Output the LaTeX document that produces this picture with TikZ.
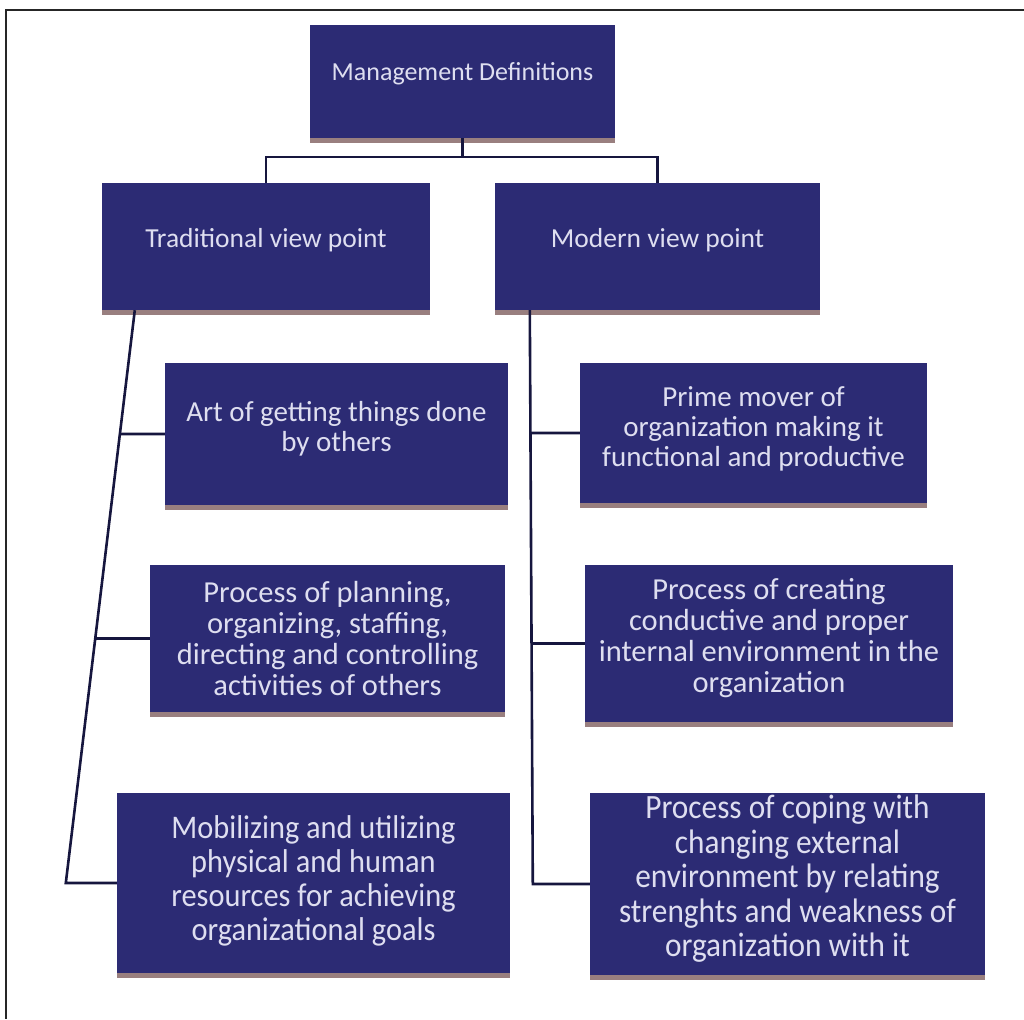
\documentclass[tikz,border=0pt]{standalone}
\usepackage{fontspec}
\setmainfont{Carlito}
\newfontfamily\narrowfont[FakeStretch=0.92]{Carlito}
\usetikzlibrary{calc,shadows}
\definecolor{boxfill}{RGB}{44,43,116}
\definecolor{boxtext}{RGB}{222,222,240}
\definecolor{linkcol}{RGB}{22,22,62}
\tikzset{
  defbox/.style={draw=none, fill=boxfill, inner sep=0pt,
    drop shadow={shadow xshift=0pt, shadow yshift=-5pt, opacity=0.5, fill=black!80!red}},
  boxlabel/.style={text=boxtext, align=center, inner sep=0pt},
  link/.style={draw=linkcol, line width=2.6pt},
  frame/.style={draw=black!85, line width=2pt}
}
\begin{document}
\begin{tikzpicture}[x=1pt,y=-1pt]
\useasboundingbox (0,0) rectangle (1024,1019);
\draw[frame] (1024,10) -- (6,10) -- (6,1019);

\node[defbox, minimum width=305pt, minimum height=113pt,
  label={[boxlabel, font=\fontsize{26}{30}\selectfont, yshift=8pt]center:{Management Definitions}}] (T) at (462.5,81.5) {};
\node[defbox, minimum width=328pt, minimum height=127pt,
  label={[boxlabel, font=\fontsize{27.5}{31}\selectfont, yshift=6pt]center:{Traditional view point}}] (Trad) at (266,246.5) {};
\node[defbox, minimum width=325pt, minimum height=127pt,
  label={[boxlabel, font=\fontsize{27.5}{31}\selectfont, yshift=6pt]center:{Modern view point}}] (Mod) at (657.5,246.5) {};

\node[defbox, minimum width=343pt, minimum height=142pt,
  label={[boxlabel, font=\fontsize{29}{29.5}\selectfont, yshift=5pt]center:{Art of getting things done\\by others}}] (L1) at (336.5,434) {};
\node[defbox, minimum width=355pt, minimum height=147pt,
  label={[boxlabel, font=\fontsize{30.5}{31}\selectfont]center:{Process of planning,\\organizing, staffing,\\directing and controlling\\activities of others}}] (L2) at (327.5,638.5) {};
\node[defbox, minimum width=393pt, minimum height=180pt,
  label={[boxlabel, font=\narrowfont\fontsize{33}{34}\selectfont, yshift=2pt]center:{Mobilizing and utilizing\\physical and human\\resources for achieving\\organizational goals}}] (L3) at (313.5,883) {};

\node[defbox, minimum width=347pt, minimum height=140pt,
  label={[boxlabel, font=\fontsize{29}{30}\selectfont, yshift=4.5pt]center:{Prime mover of\\organization making it\\functional and productive}}] (R1) at (753.5,433) {};
\node[defbox, minimum width=368pt, minimum height=157pt,
  label={[boxlabel, font=\fontsize{30.5}{31}\selectfont, yshift=5.5pt]center:{Process of creating\\conductive and proper\\internal environment in the\\organization}}] (R2) at (769,643.5) {};
\node[defbox, minimum width=395pt, minimum height=182pt,
  label={[boxlabel, font=\narrowfont\fontsize{34}{34.5}\selectfont, yshift=5pt]center:{Process of coping with\\changing external\\environment by relating\\strenghts and weakness of\\organization with it}}] (R3) at (787.5,884) {};

% top connectors
\draw[link] (T.south) -- ++(0,19) coordinate (j) -| (Trad.north);
\draw[link] (j) -| (Mod.north);

% left spine
\coordinate (ls) at ($(Trad.south west)+(33,0)$);
\path (L3.west) ++(-51,0) coordinate (lb);
\draw[link] (ls) -- (lb) -- (L3.west);
\draw[link] (intersection of ls--lb and L1.west--L1.east) -- (L1.west);
\draw[link] (intersection of ls--lb and L2.west--L2.east) -- (L2.west);

% right spine
\coordinate (rs) at ($(Mod.south west)+(35,0)$);
\path (R3.west) ++(-57,0) coordinate (rb);
\draw[link] (rs) -- (rb) -- (R3.west);
\draw[link] (intersection of rs--rb and R1.west--R1.east) -- (R1.west);
\draw[link] (intersection of rs--rb and R2.west--R2.east) -- (R2.west);
\end{tikzpicture}
\end{document}
